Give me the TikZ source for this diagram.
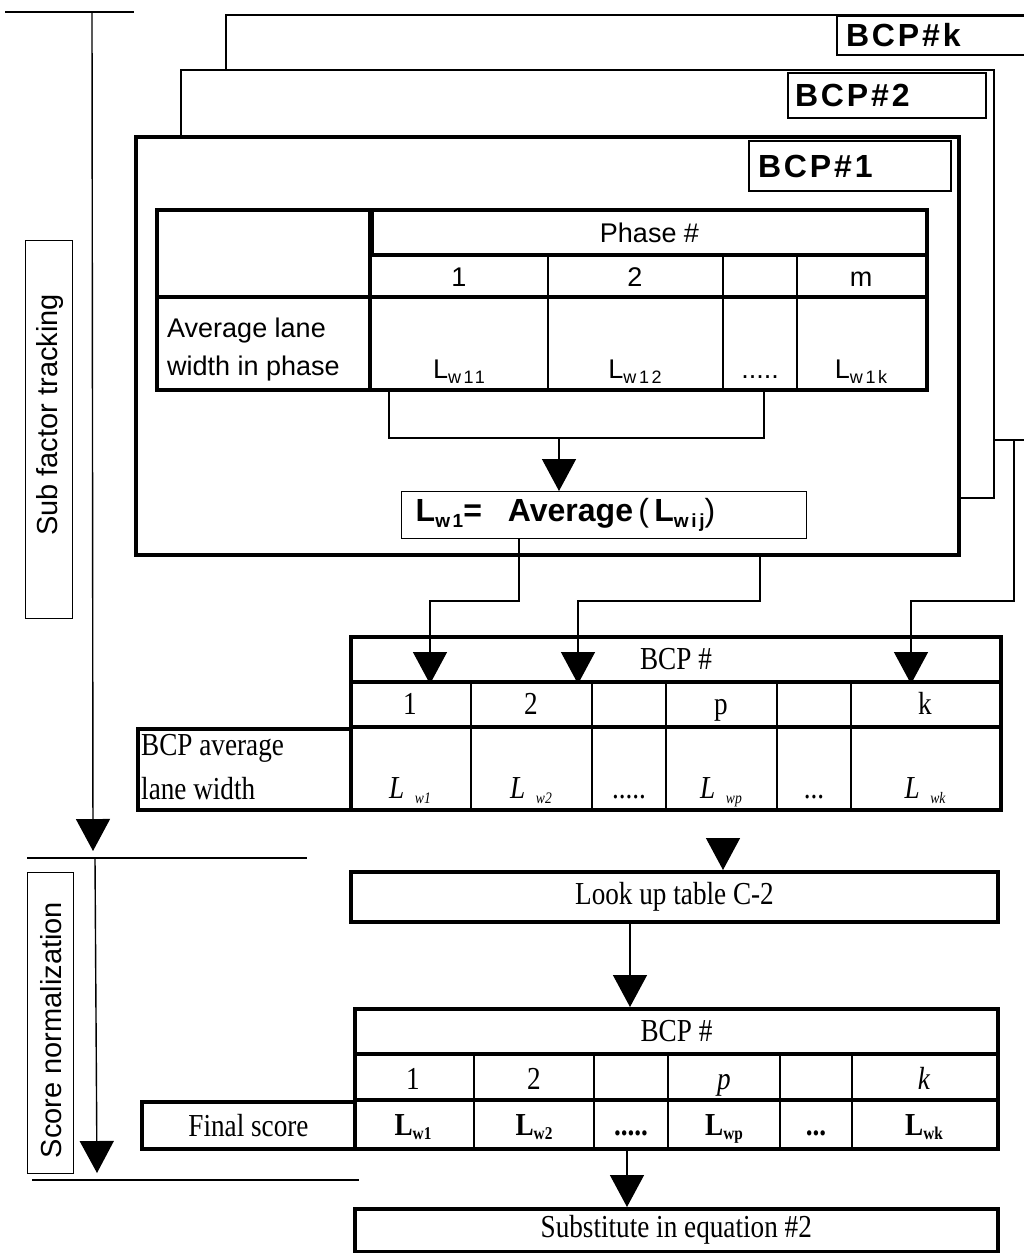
\documentclass[tikz,border=0pt]{standalone}
\usepackage{fontspec}
\setmainfont[FakeStretch=0.85]{Liberation Serif}
\setsansfont{Liberation Sans}
\newfontfamily\tagfont[LetterSpace=9]{Liberation Sans}
\newfontfamily\subfont[LetterSpace=14]{Liberation Sans}
\usetikzlibrary{arrows.meta}
\newcommand{\sfsize}{\sffamily\fontsize{27}{38}\selectfont}
\newcommand{\rmsize}{\rmfamily\fontsize{32}{44}\selectfont}
\newcommand{\phsub}[1]{\raisebox{-5pt}{\subfont\fontsize{18}{18}\selectfont #1}}
\newcommand{\avsub}[1]{\raisebox{-6pt}{\subfont\bfseries\fontsize{19}{19}\selectfont #1}}
\newcommand{\itsub}[1]{\,\,\raisebox{-5pt}{\fontsize{16}{16}\selectfont\itshape #1}}
\newcommand{\bfsub}[1]{\raisebox{-4pt}{\fontsize{18}{18}\selectfont\bfseries #1}}
\begin{document}
\begin{tikzpicture}[x=1pt, y=-1pt,
  fine/.style={line width=1.4pt},
  mid/.style={line width=2.2pt},
  heavy/.style={line width=4pt},
  frame/.style={draw, fill=white, anchor=north west, inner sep=0pt},
  tag/.style={draw, line width=2pt, fill=white, anchor=north west, inner ysep=0pt, align=left,
    font=\tagfont\bfseries\fontsize{32}{34}\selectfont},
  box/.style={draw, anchor=north west, inner sep=0pt},
  sftxt/.style={inner sep=0pt, font=\sfsize},
  rmtxt/.style={inner sep=0pt, font=\rmsize},
  arr/.style={fine, -{Triangle[width=34pt,length=32pt]}}
]
\fill[white] (0,0) rectangle (1024,1253);
\useasboundingbox (0,0) rectangle (1024,1253);
\clip (0,0) rectangle (1024,1253);

% stacked BCP frames, back to front
\node[frame, line width=2pt, minimum width=835pt, minimum height=425pt] (bcpk) at (225,14) {};
\node[tag, inner xsep=9pt, text width=182pt, minimum height=39pt] (tagk) at (836,15) {BCP\#k};
\node[frame, line width=1.5pt, minimum width=813pt, minimum height=428pt] (bcp2) at (180,69) {};
\node[tag, inner xsep=7pt, text width=184pt, minimum height=45pt] (tag2) at (787,72) {BCP\#2};
\node[frame, heavy, minimum width=823pt, minimum height=418pt] (bcp1) at (134,135) {};
\node[tag, inner xsep=9pt, text width=184pt, minimum height=50pt] (tag1) at (748,140) {BCP\#1};

% phase table
\node[box, heavy, minimum width=770pt, minimum height=180pt] (ptab) at (155,208) {};
\node[box, heavy, minimum width=555pt, minimum height=45pt, sftxt] (phd) at (370,208) {Phase \#};
\draw[heavy] (155,297) -- (925,297);
\draw[heavy] (370,208) -- (370,388);
\foreach \x in {548,723,797}
  \draw[mid] (\x,253) -- (\x,388);
\node[sftxt, anchor=base] (pn1) at (459,286) {1};
\node[sftxt, anchor=base] (pn2) at (635,286) {2};
\node[sftxt, anchor=base] (pnm) at (861,286) {m};
\node[sftxt, anchor=north west, align=left] (plab) at (167,318) {Average lane\\width in phase};
\node[sftxt, anchor=base] (pl1) at (459,378) {L\phsub{w11}};
\node[sftxt, anchor=base] (pl2) at (635,378) {L\phsub{w12}};
\node[sftxt, anchor=base] (pld) at (760,378) {.....};
\node[sftxt, anchor=base] (plm) at (861,378) {L\phsub{w1k}};

% bracket and average
\coordinate (pl) at (389,438);
\coordinate (pr) at (764,438);
\coordinate (pm) at (559,438);
\draw[fine] (ptab.south -| pl) -- (pl) -- (pr) -- (ptab.south -| pr);
\node[box, fine, fill=white, inner xsep=14pt, text width=377pt, minimum height=47pt, align=left,
  font=\sffamily\fontsize{32}{34}\selectfont] (avg) at (401,491)
  {\textbf{L}\avsub{w1}\textbf{=}\hspace{26pt}\textbf{Average}\,(\,\textbf{L}\avsub{wij})};
\draw[arr] (pm) -- (avg.north -| pm);

% middle table
\node[box, heavy, minimum width=650pt, minimum height=173pt] (mtab) at (349,635) {};
\node[box, heavy, minimum width=650pt, minimum height=45pt, rmtxt] (mhd) at (349,635) {BCP \#};
\node[box, heavy, minimum width=213pt, minimum height=81pt] (mlab) at (136,727) {};
\draw[heavy] (349,727) -- (999,727);
\foreach \x in {471,592,666,777,851}
  \draw[fine] (\x,680) -- (\x,808);
\node[rmtxt, anchor=base] (mn1) at (410,714) {1};
\node[rmtxt, anchor=base] (mn2) at (531,714) {2};
\node[rmtxt, anchor=base] (mnp) at (721,714) {p};
\node[rmtxt, anchor=base] (mnk) at (925,714) {k};
\node[rmtxt, anchor=north west, align=left] (mlabt) at (141,734) {BCP average\\lane width};
\node[rmtxt, anchor=base] (ml1) at (410,798) {\textit{L}\itsub{w1}};
\node[rmtxt, anchor=base] (ml2) at (531,798) {\textit{L}\itsub{w2}};
\node[rmtxt, anchor=base] (mld1) at (629,798) {.....};
\node[rmtxt, anchor=base] (mlp) at (721,798) {\textit{L}\itsub{wp}};
\node[rmtxt, anchor=base] (mld2) at (814,798) {...};
\node[rmtxt, anchor=base] (mlk) at (925,798) {\textit{L}\itsub{wk}};

% outputs of the BCP frames
\coordinate (k1) at (519,601);
\coordinate (k2) at (760,601);
\coordinate (k3) at (1014,601);
\coordinate (t1) at (430,601);
\coordinate (t2) at (578,601);
\coordinate (t3) at (911,601);
\draw[arr] (avg.south -| k1) -- (k1) -- (t1) -- (mhd.south -| t1);
\draw[arr] (bcp1.south -| k2) -- (k2) -- (t2) -- (mhd.south -| t2);
\draw[arr] (bcpk.south -| k3) -- (k3) -- (t3) -- (mhd.south -| t3);

% look up
\node[box, heavy, minimum width=647pt, minimum height=50pt, rmtxt] (look) at (349,870) {Look up table C-2};
\coordinate (lkin) at (723,838);
\draw[arr] (lkin) -- (look.north -| lkin);

% final table
\node[box, heavy, minimum width=643pt, minimum height=140pt] (ftab) at (353,1007) {};
\node[box, heavy, minimum width=643pt, minimum height=45pt, rmtxt] (fhd) at (353,1007) {BCP \#};
\node[box, heavy, minimum width=213pt, minimum height=47pt, rmtxt] (flab) at (140,1100) {Final score};
\draw[heavy] (353,1100) -- (996,1100);
\foreach \x in {474,594,668,780,852}
  \draw[mid] (\x,1052) -- (\x,1147);
\node[rmtxt, anchor=base] (fn1) at (413,1089) {1};
\node[rmtxt, anchor=base] (fn2) at (534,1089) {2};
\node[rmtxt, anchor=base] (fnp) at (724,1089) {\textit{p}};
\node[rmtxt, anchor=base] (fnk) at (924,1089) {\textit{k}};
\node[rmtxt, anchor=base] (fl1) at (413,1135) {\textbf{L}\bfsub{w1}};
\node[rmtxt, anchor=base] (fl2) at (534,1135) {\textbf{L}\bfsub{w2}};
\node[rmtxt, anchor=base] (fld1) at (631,1135) {\textbf{.....}};
\node[rmtxt, anchor=base] (flp) at (724,1135) {\textbf{L}\bfsub{wp}};
\node[rmtxt, anchor=base] (fld2) at (816,1135) {\textbf{...}};
\node[rmtxt, anchor=base] (flk) at (924,1135) {\textbf{L}\bfsub{wk}};
\coordinate (lf) at (630,0);
\draw[arr] (look.south -| lf) -- (fhd.north -| lf);

% substitute
\node[box, line width=3.5pt, minimum width=643pt, minimum height=43pt, rmtxt] (subst) at (353,1207) {Substitute in equation \#2};
\coordinate (fs) at (627,0);
\draw[arr] (ftab.south -| fs) -- (subst.north -| fs);

% stage bars on the left
\coordinate (h1l) at (5,12);
\coordinate (h1r) at (134,12);
\coordinate (h2l) at (27,858);
\coordinate (h2r) at (307,858);
\coordinate (h3l) at (32,1180);
\coordinate (h3r) at (359,1180);
\draw[fine] (h1l) -- (h1r);
\draw[fine] (h2l) -- (h2r);
\draw[fine] (h3l) -- (h3r);
\coordinate (s1) at (92,12);
\coordinate (s1e) at (93,851);
\coordinate (s2) at (95,858);
\coordinate (s2e) at (97,1173);
\draw[arr] (s1) -- (s1e);
\draw[arr] (s2) -- (s2e);
\node[box, fine, minimum width=47pt, minimum height=378pt] (subf) at (25,240) {};
\node[sftxt, rotate=90, font=\sffamily\fontsize{29}{30}\selectfont] (subft) at (50,415) {Sub factor tracking};
\node[box, fine, minimum width=46pt, minimum height=301pt] (scn) at (27,872) {};
\node[sftxt, rotate=90, font=\sffamily\fontsize{29}{30}\selectfont] (scnt) at (51,1030) {Score normalization};
\end{tikzpicture}
\end{document}
